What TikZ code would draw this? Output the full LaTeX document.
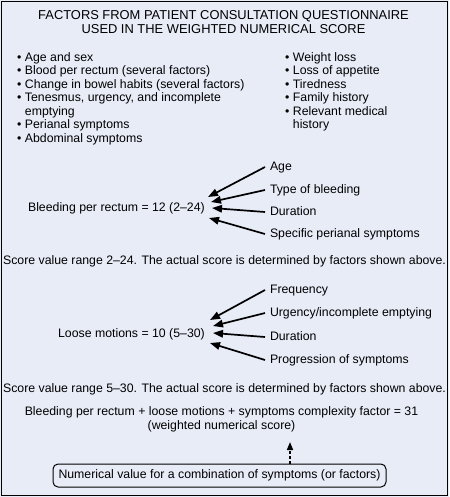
\documentclass[tikz,border=0pt]{standalone}
\usepackage{fontspec}
\setmainfont{Liberation Sans}
\usetikzlibrary{arrows.meta}
\definecolor{bgc}{HTML}{E8ECF7}
\tikzset{
  txt/.style={font=\fontsize{12.3}{13.5}\selectfont, inner sep=0pt},
  lbl/.style={txt, anchor=west, text height=9pt, text depth=3pt, outer xsep=5pt, outer ysep=0pt},
  main/.style={txt, anchor=east, text height=9pt, text depth=3pt},
  arr/.style={line width=1.7pt, -{Triangle[length=10pt,width=7.5pt]}},
  darr/.style={line width=1.5pt, dash pattern=on 3pt off 2pt, -{Triangle[length=8pt,width=6pt]}},
  boxed/.style={txt, draw, line width=1pt, rounded corners=5pt, minimum width=333pt, minimum height=23pt}
}
\begin{document}
\begin{tikzpicture}[x=1pt,y=-1pt]
\useasboundingbox (0,0) rectangle (449,497);
\fill[bgc] (0,0) rectangle (449,497);
\draw[line width=1.2pt] (1.2,1.2) rectangle (447.6,495.6);

\node[txt, anchor=north, align=center, font=\fontsize{12.9}{14}\selectfont] (title) at (223.5,10.5)
  {FACTORS FROM PATIENT CONSULTATION QUESTIONNAIRE\\USED IN THE WEIGHTED NUMERICAL SCORE};

\node[txt, anchor=north west, align=left] (leftlist) at (17,52)
  {• Age and sex\\
   • Blood per rectum (several factors)\\
   • Change in bowel habits (several factors)\\
   • Tenesmus, urgency, and incomplete\\
   \phantom{• }emptying\\
   • Perianal symptoms\\
   • Abdominal symptoms};

\node[txt, anchor=north west, align=left] (rightlist) at (285,52)
  {• Weight loss\\
   • Loss of appetite\\
   • Tiredness\\
   • Family history\\
   • Relevant medical\\
   \phantom{• }history};

% Bleeding per rectum
\node[main] (bleed) at (205,208) {Bleeding per rectum = 12 (2–24)};
\node[lbl] (age) at (265,167) {Age};
\node[lbl] (type) at (265,190) {Type of bleeding};
\node[lbl] (dur1) at (265,212) {Duration};
\node[lbl] (spec) at (265,234) {Specific perianal symptoms};
\coordinate (b1) at (208,197);
\coordinate (b2) at (211,202);
\coordinate (b3) at (212,208);
\coordinate (b4) at (209,218);
\draw[arr] (age.west) -- (b1);
\draw[arr] (type.west) -- (b2);
\draw[arr] (dur1.west) -- (b3);
\draw[arr] (spec.west) -- (b4);

\node[txt] (score1) at (224.5,261) {Score value range 2–24. The actual score is determined by factors shown above.};

% Loose motions
\node[main] (loose) at (205,334) {Loose motions = 10 (5–30)};
\node[lbl] (freq) at (265,290) {Frequency};
\node[lbl] (urg) at (265,313) {Urgency/incomplete emptying};
\node[lbl] (dur2) at (265,337) {Duration};
\node[lbl] (prog) at (265,360) {Progression of symptoms};
\coordinate (l1) at (210,320);
\coordinate (l2) at (213,326);
\coordinate (l3) at (213,333);
\coordinate (l4) at (210,343);
\draw[arr] (freq.west) -- (l1);
\draw[arr] (urg.west) -- (l2);
\draw[arr] (dur2.west) -- (l3);
\draw[arr] (prog.west) -- (l4);

\node[txt] (score2) at (224.5,389) {Score value range 5–30. The actual score is determined by factors shown above.};

\node[txt, anchor=north, align=center, font=\fontsize{12.3}{14.5}\selectfont] (sum) at (221.5,406)
  {Bleeding per rectum + loose motions + symptoms complexity factor = 31\\(weighted numerical score)};

\node[boxed] (box) at (219.5,475.5) {Numerical value for a combination of symptoms (or factors)};
\coordinate (tip) at (290,442);
\draw[darr] (box.north -| tip) -- (tip);
\end{tikzpicture}
\end{document}
